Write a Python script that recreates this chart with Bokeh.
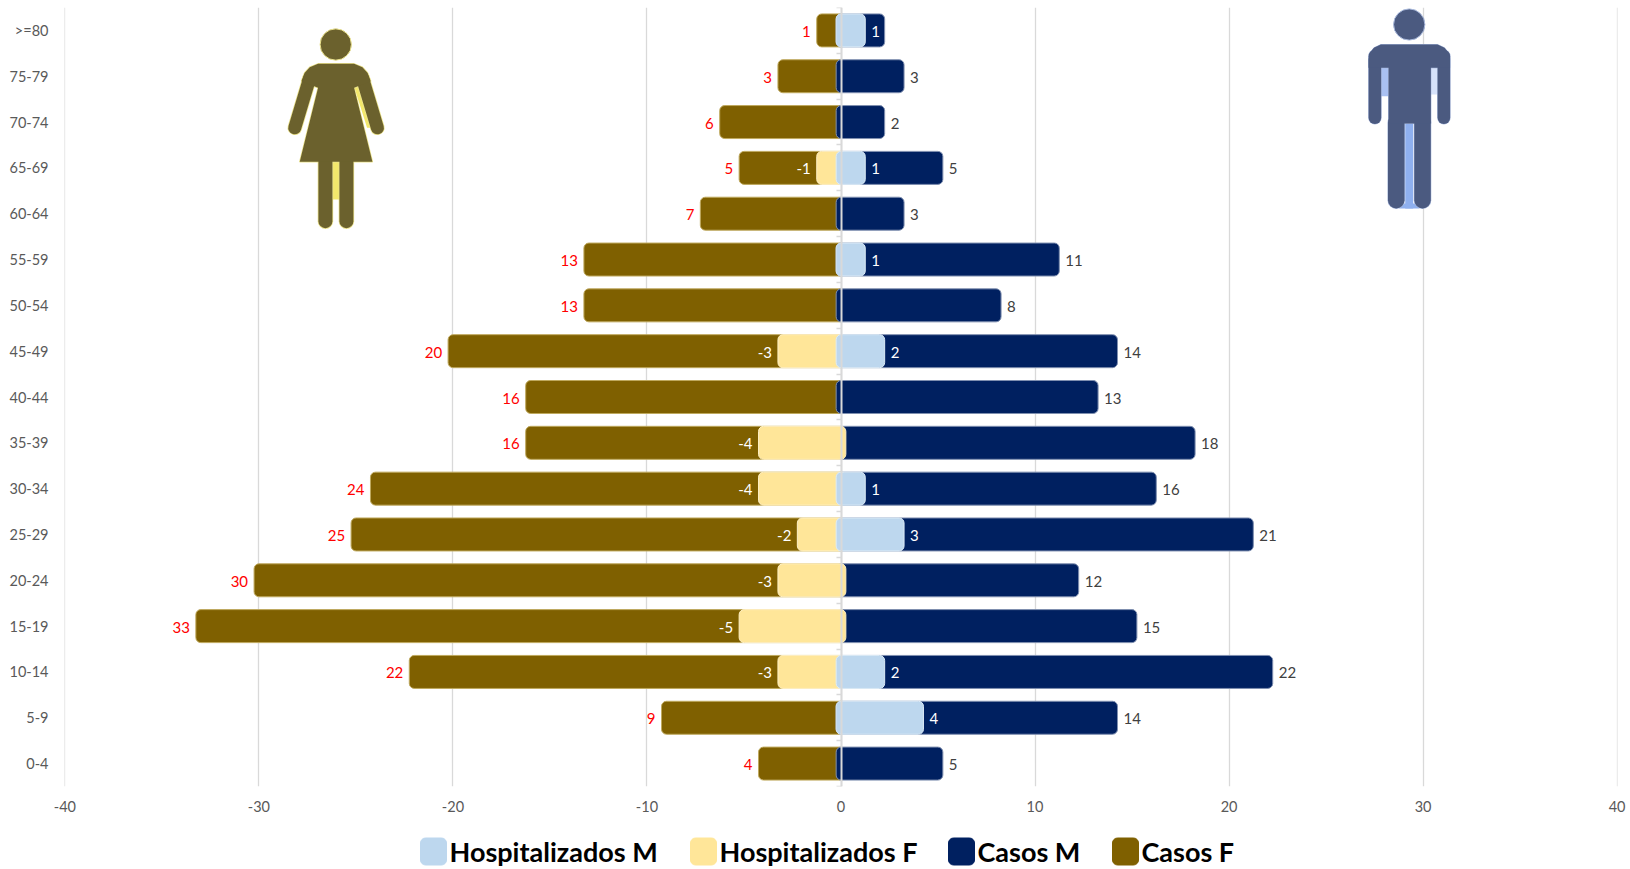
from bokeh.plotting import figure
from bokeh.layouts import column
from bokeh.models import FixedTicker, LinearAxis, Range1d
from bokeh.core.properties import value
from bokeh.embed import file_html
from bokeh.resources import INLINE

ages = ["0-4","5-9","10-14","15-19","20-24","25-29","30-34","35-39","40-44","45-49","50-54","55-59","60-64","65-69","70-74","75-79",">=80"]
casos_f = [4,9,22,33,30,25,24,16,16,20,13,13,7,5,6,3,1]
casos_m = [5,14,22,15,12,21,16,18,13,14,8,11,3,5,2,3,2]
casos_m_labels = ["5","14","22","15","12","21","16","18","13","14","8","11","3","5","2","3",""]
hosp_f = [0,0,-3,-5,-3,-2,-4,-4,0,-3,0,0,0,-1,0,0,0]
hosp_m = [0,4,2,0,0,3,1,0,0,2,0,1,0,1,0,0,1]
x_ticks = [-40,-30,-20,-10,0,10,20,30,40]
legend_names = ["Hospitalizados M","Hospitalizados F","Casos M","Casos F"]
legend_colors = ["#bdd7ee","#ffe699","#002060","#7f6000"]
legend_left = [421,691,949,1113]

PAD = 0.25   # rounded outline overshoot of each bar
BAR_H = 0.72
FL, FT, FR, FB = 65.0, 8.0, 1618.0, 787.0   # frame in picture pixels

p = figure(frame_width=1553, frame_height=779, output_backend="svg", toolbar_location=None,
           x_range=Range1d(-40.02, 40.02), y_range=Range1d(-0.5, 16.5),
           min_border_left=64, min_border_right=9, min_border_top=7, min_border_bottom=36,
           outline_line_color=None, background_fill_color="white")

p.ygrid.visible = False
p.xgrid.ticker = FixedTicker(ticks=x_ticks)
p.xgrid.grid_line_color = "#d9d9d9"
p.xgrid.grid_line_width = 1.3

p.xaxis.ticker = FixedTicker(ticks=x_ticks)
p.xaxis.major_label_overrides = {t: str(t) for t in x_ticks}
p.xaxis.axis_line_color = None
p.xaxis.major_tick_line_color = None
p.xaxis.minor_tick_line_color = None
p.xaxis.major_tick_out = 0
p.xaxis.minor_tick_out = 0
p.xaxis.major_label_text_font = "Lato"
p.xaxis.major_label_text_font_size = "14.5px"
p.xaxis.major_label_text_color = "#595959"
p.xaxis.major_label_standoff = 14

p.yaxis.ticker = FixedTicker(ticks=list(range(len(ages))))
p.yaxis.major_label_overrides = {i: a for i, a in enumerate(ages)}
p.yaxis.axis_line_color = None
p.yaxis.major_tick_line_color = None
p.yaxis.minor_tick_line_color = None
p.yaxis.major_tick_out = 0
p.yaxis.minor_tick_out = 0
p.yaxis.major_label_text_font = "Lato"
p.yaxis.major_label_text_font_size = "14.5px"
p.yaxis.major_label_text_color = "#595959"
p.yaxis.major_label_standoff = 16

# ---- icons, placed in picture pixels converted through the axes' scale
def X(px): return -40 + (px - FL) * 80 / (FR - FL)
def Y(py): return -0.5 + (FB - py) * 17 / (FB - FT)

def poly(pts, ox, color, lw=0, lc=None):
    p.patch([X(ox + a / 3) for a, b in pts], [Y(b / 3) for a, b in pts],
            fill_color=color, line_color=lc, line_width=lw)

def limb(a, ox, w, color):
    p.line([X(ox + q[0] / 3) for q in a], [Y(q[1] / 3) for q in a],
           line_color=color, line_width=w, line_cap="round")

def head(cx, cy, r, ox, color, lc):
    p.scatter([X(ox + cx / 3)], [Y(cy / 3)], size=2 * r / 3, marker="circle",
              fill_color=color, line_color=lc, line_width=1)

# female
OXF, FC, FG = 260, "#6b612d", "#ebe38e"
F_BODY = [(125,245),(135,220),(150,203),(175,193),(283,193),(308,203),(323,220),(333,245),(283,265),(338,487),(120,487),(175,265)]
poly([(283,262),(303,262),(336,385),(322,385)], OXF, "#f3e86c")
poly([(218,487),(240,487),(240,600),(218,600)], OXF, "#f3e86c")
for g, extra in ((FG, 1.5), (FC, 0)):
    limb([(150,235),(105,385)], OXF, 13 + extra, g)
    limb([(308,235),(353,385)], OXF, 13 + extra, g)
    limb([(197,487),(197,665)], OXF, 14 + extra, g)
    limb([(260,487),(260,665)], OXF, 14 + extra, g)
    poly(F_BODY, OXF, FC if extra == 0 else g, lw=extra, lc=g if extra else None)
head(228, 135, 47, OXF, FC, FG)

# male
OXM, MC, MG = 1340, "#4b5a80", "#a9b9dc"
M_BODY = [(88,180),(92,160),(104,145),(125,135),(295,135),(316,145),(328,160),(332,180),(332,205),(275,205),(275,372),(148,372),(148,205),(88,205)]
poly([(125,200),(148,200),(148,290),(125,290)], OXM, "#a9c0f2")
poly([(275,200),(295,200),(295,285),(275,285)], OXM, "#d6e2fa")
poly([(198,370),(222,370),(222,627),(198,627)], OXM, "#8fb0ef")
poly([(180,612),(240,612),(240,627),(180,627)], OXM, "#8fb0ef")
for g, extra in ((MG, 1), (MC, 0)):
    limb([(107,170),(107,355)], OXM, 12.5 + extra, g)
    limb([(314,170),(314,355)], OXM, 12.5 + extra, g)
    limb([(171,370),(171,602)], OXM, 16.5 + extra, g)
    limb([(250,370),(250,602)], OXM, 16.5 + extra, g)
    poly(M_BODY, OXM, MC if extra == 0 else g, lw=extra, lc=g if extra else None)
head(210, 75, 47, OXM, MC, MG)

# ---- bars
ys = list(range(len(ages)))
def bars(left, right, y, fill, line):
    return p.hbar(y=y, left=left, right=right, height=BAR_H, fill_color=fill,
                  line_color=line, line_width=1, border_radius=5)

bars([-v - PAD for v in casos_f], [PAD] * len(ys), ys, "#7f6000", "#bfa95e")
bars([-PAD] * len(ys), [v + PAD for v in casos_m], ys, "#002060", "#7f8fb0")
hf = [(i, v) for i, v in enumerate(hosp_f) if v != 0]
hm = [(i, v) for i, v in enumerate(hosp_m) if v != 0]
bars([v - PAD for _, v in hf], [PAD] * len(hf), [i for i, _ in hf], "#ffe699", "#fff0c4")
bars([-PAD] * len(hm), [v + PAD for _, v in hm], [i for i, _ in hm], "#bdd7ee", "#dcebf7")

# ---- data labels
def labels(x, y, txt, color, align, off):
    p.text(x=x, y=y, text=txt, text_color=color, text_align=align, text_baseline="middle",
           x_offset=off, y_offset=1, text_font=value("Lato"), text_font_size="15px")

labels([-v - PAD for v in casos_f], ys, [str(v) for v in casos_f], "#ff0000", "right", -6)
labels([v + PAD for v in casos_m], ys, casos_m_labels, "#404040", "left", 6)
labels([v - PAD for _, v in hf], [i for i, _ in hf], [str(v) for _, v in hf], "#ffffff", "right", -6)
labels([v + PAD for _, v in hm], [i for i, _ in hm], [str(v) for _, v in hm], "#ffffff", "left", 6)

# ---- category axis line at x=0 with ticks between the age groups
zero_axis = LinearAxis(fixed_location=0, ticker=FixedTicker(ticks=[i - 0.5 for i in range(len(ages) + 1)]),
                       axis_line_color="#d9d9d9", axis_line_width=2,
                       major_tick_line_color="#d9d9d9", major_tick_line_width=1.3,
                       major_tick_in=0, major_tick_out=5,
                       minor_tick_line_color=None,
                       major_label_text_font_size="0px", major_label_text_color=None)
p.add_layout(zero_axis, "left")

# ---- legend strip: a second figure whose axes run in picture pixels
LEG_TOP = 823
LEG_H = 45
leg = figure(frame_width=1553, height=LEG_H, output_backend="svg", toolbar_location=None,
             x_range=Range1d(FL, FR), y_range=Range1d(LEG_TOP + LEG_H, LEG_TOP),
             min_border=0, min_border_left=64, min_border_right=9, outline_line_color=None,
             x_axis_type=None, y_axis_type=None)
leg.grid.visible = False
leg.hbar(y=[852] * 4, left=legend_left, right=[v + 26 for v in legend_left], height=27,
         fill_color=legend_colors, line_color=legend_colors, border_radius=5)
leg.text(x=[v + 29 for v in legend_left], y=[852] * 4, text=legend_names, text_baseline="middle",
         text_align="left", text_color="#000000", text_font=value("Lato"),
         text_font_style="bold", text_font_size="27px")

open("out.html", "w").write(file_html(column(p, leg, spacing=0), INLINE))
